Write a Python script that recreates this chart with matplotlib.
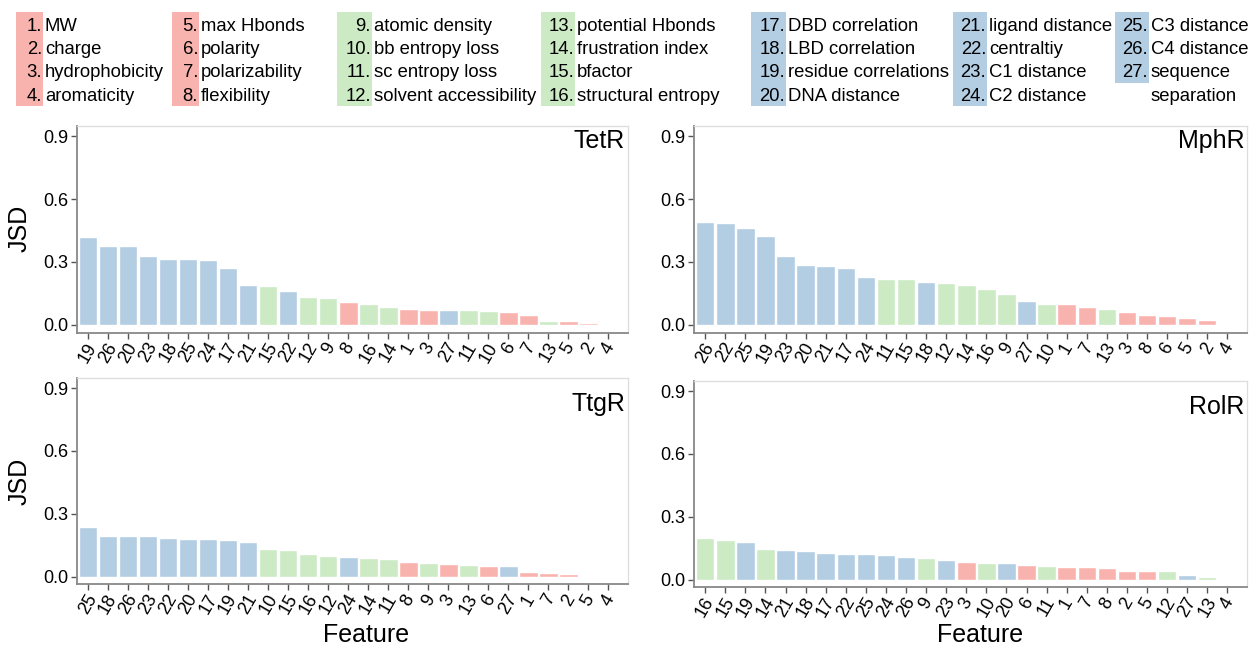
import matplotlib
matplotlib.use('Agg')
import matplotlib.pyplot as plt
from matplotlib.patches import Rectangle

plt.rcParams['font.family'] = ['Liberation Sans', 'DejaVu Sans']

W, H = 1257, 645

# ---------------- data ----------------
feature_names = ['MW', 'charge', 'hydrophobicity', 'aromaticity',
                 'max Hbonds', 'polarity', 'polarizability', 'flexibility',
                 'atomic density', 'bb entropy loss', 'sc entropy loss', 'solvent accessibility',
                 'potential Hbonds', 'frustration index', 'bfactor', 'structural entropy',
                 'DBD correlation', 'LBD correlation', 'residue correlations', 'DNA distance',
                 'ligand distance', 'centraltiy', 'C1 distance', 'C2 distance',
                 'C3 distance', 'C4 distance', 'sequence\nseparation']

panel_names = ['TetR', 'MphR', 'TtgR', 'RolR']

tetr_order = [19, 26, 20, 23, 18, 25, 24, 17, 21, 15, 22, 12, 9, 8, 16, 14, 1, 3, 27, 11, 10, 6, 7, 13, 5, 2, 4]
tetr_jsd = [0.420, 0.378, 0.375, 0.329, 0.314, 0.314, 0.310, 0.271, 0.190, 0.186, 0.162, 0.132, 0.130,
            0.110, 0.100, 0.084, 0.076, 0.071, 0.071, 0.070, 0.067, 0.062, 0.048, 0.021, 0.018, 0.010, 0.002]

mphr_order = [26, 22, 25, 19, 23, 20, 21, 17, 24, 11, 15, 18, 12, 14, 16, 9, 27, 10, 1, 7, 13, 3, 8, 6, 5, 2, 4]
mphr_jsd = [0.492, 0.486, 0.462, 0.425, 0.329, 0.286, 0.283, 0.270, 0.230, 0.221, 0.219, 0.205, 0.198,
            0.190, 0.171, 0.149, 0.113, 0.102, 0.102, 0.084, 0.075, 0.060, 0.049, 0.043, 0.033, 0.022, 0.002]

ttgr_order = [25, 18, 26, 23, 22, 20, 17, 19, 21, 10, 15, 16, 12, 24, 14, 11, 8, 9, 3, 13, 6, 27, 1, 7, 2, 5, 4]
ttgr_jsd = [0.238, 0.195, 0.193, 0.192, 0.184, 0.182, 0.179, 0.174, 0.163, 0.132, 0.128, 0.109, 0.098,
            0.092, 0.087, 0.082, 0.070, 0.067, 0.059, 0.054, 0.051, 0.051, 0.024, 0.017, 0.014, 0.005, 0.002]

rolr_order = [16, 15, 19, 14, 21, 18, 17, 22, 25, 24, 26, 9, 23, 3, 10, 20, 6, 11, 1, 7, 8, 2, 5, 12, 27, 13, 4]
rolr_jsd = [0.199, 0.188, 0.181, 0.147, 0.142, 0.139, 0.125, 0.121, 0.121, 0.118, 0.106, 0.101, 0.095,
            0.082, 0.079, 0.079, 0.071, 0.065, 0.060, 0.060, 0.055, 0.039, 0.039, 0.039, 0.021, 0.011, 0.002]

yticks = [0.0, 0.3, 0.6, 0.9]

# ---------------- style ----------------
RED, GREEN, BLUE = '#f9b3ae', '#ccebc5', '#b3cde3'


def color_of(f):
    if f <= 8:
        return RED
    if f <= 16:
        return GREEN
    return BLUE


def fx(px):
    return px / W


def fy(py):
    return 1 - py / H


fig = plt.figure(figsize=(W / 100, H / 100), dpi=100)

# axes rectangles in pixels: left, top, right, bottom
rects = [(77, 126, 628, 332.7), (694, 126, 1247, 332.7),
         (77, 378, 628, 584.4), (694, 381, 1247, 587.4)]
label_y = [0.893, 0.893, 0.840, 0.840]
panels = [(tetr_order, tetr_jsd), (mphr_order, mphr_jsd), (ttgr_order, ttgr_jsd), (rolr_order, rolr_jsd)]

for i, ((order, vals), (l, t, r, b)) in enumerate(zip(panels, rects)):
    ax = fig.add_axes([fx(l), fy(b), (r - l) / W, (b - t) / H])
    xs = list(range(len(order)))
    ax.bar(xs, vals, width=0.92, color=[color_of(f) for f in order],
           edgecolor='white', linewidth=1.0)
    ax.set_xlim(-0.56, 26.98)
    ax.set_ylim(-0.037, 0.948)
    ax.set_yticks(yticks)
    ax.set_yticklabels([f'{v:.1f}' for v in yticks])
    ax.set_xticks(xs)
    ax.set_xticklabels([str(f) for f in order], rotation=60, ha='center')
    ax.tick_params(axis='both', colors='#555555', labelcolor='black', labelsize=13,
                   length=4, width=1.0, pad=2)
    ax.tick_params(axis='x', pad=1)
    for s in ['left', 'bottom']:
        ax.spines[s].set_color('#888888')
        ax.spines[s].set_linewidth(1.3)
    for s in ['top', 'right']:
        ax.spines[s].set_color('#dddddd')
        ax.spines[s].set_linewidth(0.9)
    ax.text(0.995, label_y[i], panel_names[i], transform=ax.transAxes,
            ha='right', va='baseline', fontsize=18)

# axis titles
fig.text(fx(20), fy(228), 'JSD', rotation=90, ha='center', va='center', fontsize=18)
fig.text(fx(20), fy(481), 'JSD', rotation=90, ha='center', va='center', fontsize=18)
fig.text(fx(366), fy(635), 'Feature', ha='center', va='center', fontsize=18)
fig.text(fx(980), fy(635), 'Feature', ha='center', va='center', fontsize=18)

# ---------------- legend ----------------
col_boxes = [(16, 43), (172, 199), (337, 372), (541, 575), (751, 786), (953, 987), (1115, 1149)]
row_base = [30.6, 54.0, 77.4, 100.8]
box_top = 12
row_h = 23.35
fs_leg = 13.3
for c, (bl, br) in enumerate(col_boxes):
    feats = list(range(c * 4 + 1, min(c * 4 + 4, 27) + 1))
    nrows = len(feats)
    box_bot = box_top + row_h * nrows + 0.5
    fig.add_artist(Rectangle((fx(bl), fy(box_bot)), (br - bl) / W, (box_bot - box_top) / H,
                             transform=fig.transFigure, facecolor=color_of(feats[0]),
                             edgecolor='none', zorder=0))
    for k, f in enumerate(feats):
        fig.text(fx(br - 1), fy(row_base[k]), f'{f}.', ha='right', va='baseline', fontsize=fs_leg)
        name = feature_names[f - 1]
        lines = name.split('\n')
        for j, ln in enumerate(lines):
            fig.text(fx(br + 2), fy(row_base[k + j]), ln, ha='left', va='baseline', fontsize=fs_leg)

fig.savefig('out.png', dpi=100)
